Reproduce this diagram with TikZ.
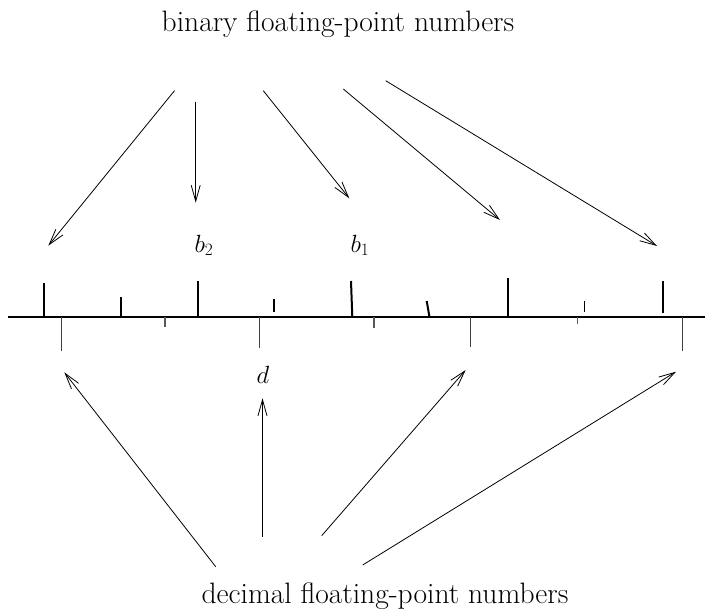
\documentclass[tikz,border=0pt]{standalone}
\usetikzlibrary{arrows.meta}
\begin{document}
\begin{tikzpicture}[x=1pt,y=-1pt,
  lbl/.style={inner sep=0pt,anchor=base,font=\fontsize{29.5}{35}\selectfont},
  mlbl/.style={inner sep=0pt,anchor=base,font=\fontsize{27}{32}\selectfont},
  conn/.style={line width=0.8pt,-{Straight Barb[length=16pt,width=9pt,line width=0.8pt]}},
  axisline/.style={line width=2pt},
  btick/.style={line width=2pt},
  btickthin/.style={line width=1.1pt},
  dtick/.style={line width=1pt,black!75},
  dtickshort/.style={line width=1.2pt,black!65}]
\useasboundingbox (0,0) rectangle (705,613);
% texts
\node[lbl] (bin) at (338,31) {binary floating-point numbers};
\node[lbl] (dec) at (385,603) {decimal floating-point numbers};
\node[mlbl] (b2) at (204,252) {$b_2$};
\node[mlbl] (b1) at (360,252) {$b_1$};
\node[mlbl] (d) at (263,383) {$d$};
% axis
\draw[axisline] (8,317) -- (705,317);
% binary ticks
\draw[btick] (44,283) -- (44,316);
\draw[btick] (120.7,297) -- (120.7,316);
\draw[btick] (197.7,281) -- (197.7,316);
\draw[btick] (274.3,299) -- (274.3,312);
\draw[btick] (351,281) -- (352.3,317);
\draw[btick] (426.7,301) -- (429.3,316);
\draw[btick] (507.7,278) -- (507.7,318);
\draw[btickthin] (584.3,301) -- (584.3,312);
\draw[btick] (662.7,281) -- (662.7,313);
% decimal ticks
\draw[dtick] (61.7,317) -- (61.7,351);
\draw[dtickshort] (165,317) -- (165,327);
\draw[dtick] (259.3,317) -- (259.3,348);
\draw[dtickshort] (374,317) -- (374,328);
\draw[dtick] (470,317) -- (470,347);
\draw[dtickshort] (577.7,317) -- (577.7,324);
\draw[dtick] (682.3,317) -- (682.3,351);
% top arrow coordinates
\coordinate (t1s) at (174.5,90.7);
\coordinate (t1e) at (48.3,245.7);
\coordinate (t2s) at (195.7,101.7);
\coordinate (t2e) at (195.7,202.7);
\coordinate (t3s) at (263.3,90.7);
\coordinate (t3e) at (349.3,198.3);
\coordinate (t4s) at (343.3,89);
\coordinate (t4e) at (500,220);
\coordinate (t5s) at (385.7,80.7);
\coordinate (t5e) at (657,246);
\draw[conn] (t1s) -- (t1e);
\draw[conn] (t2s) -- (t2e);
\draw[conn] (t3s) -- (t3e);
\draw[conn] (t4s) -- (t4e);
\draw[conn] (t5s) -- (t5e);
% bottom arrow coordinates
\coordinate (u1s) at (215.7,566.7);
\coordinate (u1e) at (64.3,372.3);
\coordinate (u2s) at (262.5,536.7);
\coordinate (u2e) at (262.5,398.3);
\coordinate (u3s) at (321.7,535.7);
\coordinate (u3e) at (465.7,370);
\coordinate (u4s) at (362.7,565);
\coordinate (u4e) at (676,371.7);
\draw[conn] (u1s) -- (u1e);
\draw[conn] (u2s) -- (u2e);
\draw[conn] (u3s) -- (u3e);
\draw[conn] (u4s) -- (u4e);
\end{tikzpicture}
\end{document}
